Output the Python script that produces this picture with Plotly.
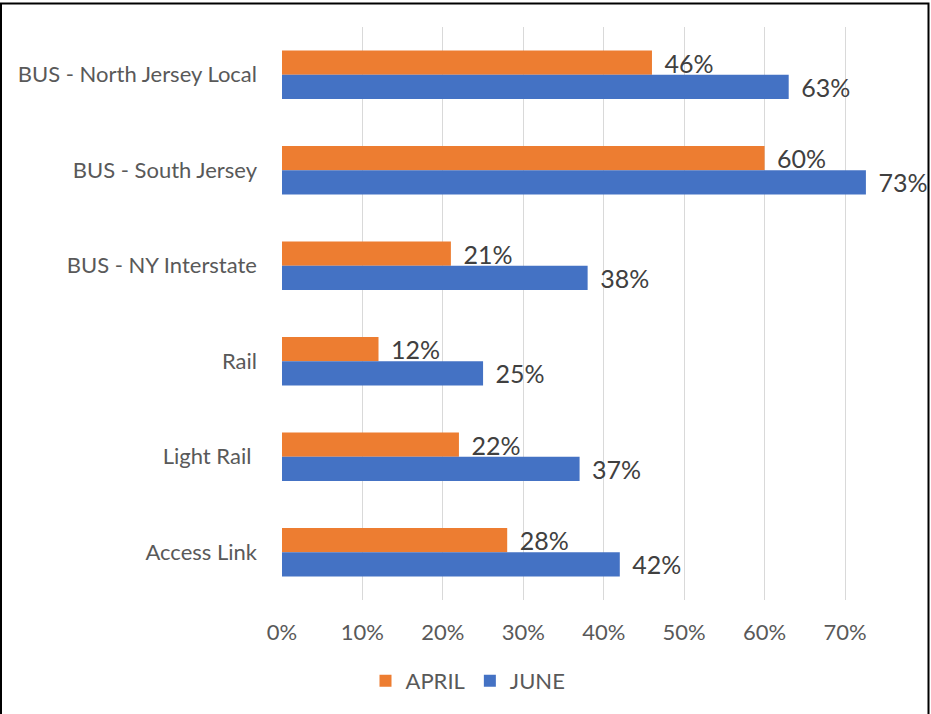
import plotly.graph_objects as go

categories = ["BUS - North Jersey Local", "BUS - South Jersey", "BUS - NY Interstate",
              "Rail", "Light Rail\u00a0", "Access Link"]
april = [0.46, 0.60, 0.21, 0.12, 0.22, 0.28]
june = [0.63, 0.726, 0.38, 0.25, 0.37, 0.42]
tick_vals = [0, 0.1, 0.2, 0.3, 0.4, 0.5, 0.6, 0.7]
tick_text = ["0%", "10%", "20%", "30%", "40%", "50%", "60%", "70%"]

FONT = "Lato, Calibri, Carlito, sans-serif"
TEMPLATE = "\u00a0\u2009%{x:.0%}"

fig = go.Figure()
fig.add_trace(go.Bar(y=categories, x=april, name="APRIL", orientation="h",
                     marker=dict(color="#ED7D31", line=dict(width=0)),
                     texttemplate=TEMPLATE, textposition="outside",
                     constraintext="none",
                     textfont=dict(size=25, color="#404040", family=FONT), cliponaxis=False))
fig.add_trace(go.Bar(y=categories, x=june, name="JUNE", orientation="h",
                     marker=dict(color="#4472C4", line=dict(width=0)),
                     texttemplate=TEMPLATE, textposition="outside",
                     constraintext="none",
                     textfont=dict(size=25, color="#404040", family=FONT), cliponaxis=False))

L, R, T, B = 282, 882, 27, 600
W, H = 931, 714
fig.update_layout(
    width=W, height=H,
    margin=dict(l=L, r=W - R, t=T, b=H - B, pad=0),
    barmode="group", bargap=0.49, bargroupgap=0,
    plot_bgcolor="white", paper_bgcolor="white",
    font=dict(family=FONT, color="#595959", size=22),
    xaxis=dict(range=[0, 0.746], tickvals=tick_vals, ticktext=tick_text,
               showgrid=True, gridcolor="#D9D9D9", gridwidth=1, zeroline=False,
               showline=False, ticks="", ticklabelstandoff=17,
               tickfont=dict(size=22, color="#595959", family=FONT)),
    yaxis=dict(autorange="reversed", showgrid=False, showline=False, ticks="",
               ticklabelstandoff=24, tickfont=dict(size=22, color="#595959", family=FONT)),
    legend=dict(orientation="h", x=(468 - L) / (R - L), xanchor="center",
                y=(B - 681) / (B - T), yanchor="middle",
                font=dict(size=22, color="#595959", family=FONT),
                traceorder="normal"),
    showlegend=True,
)

# outer frame of the image
fig.add_shape(type="rect", xref="paper", yref="paper",
              x0=(1 - L) / (R - L), x1=(928.5 - L) / (R - L),
              y0=(B - 720) / (B - T), y1=(B - 3.5) / (B - T),
              line=dict(color="black", width=2), fillcolor="rgba(0,0,0,0)", layer="above")

fig.write_html("out.html", config={"displayModeBar": False},
               post_script="document.body.style.margin='0';document.body.style.overflow='hidden';")
